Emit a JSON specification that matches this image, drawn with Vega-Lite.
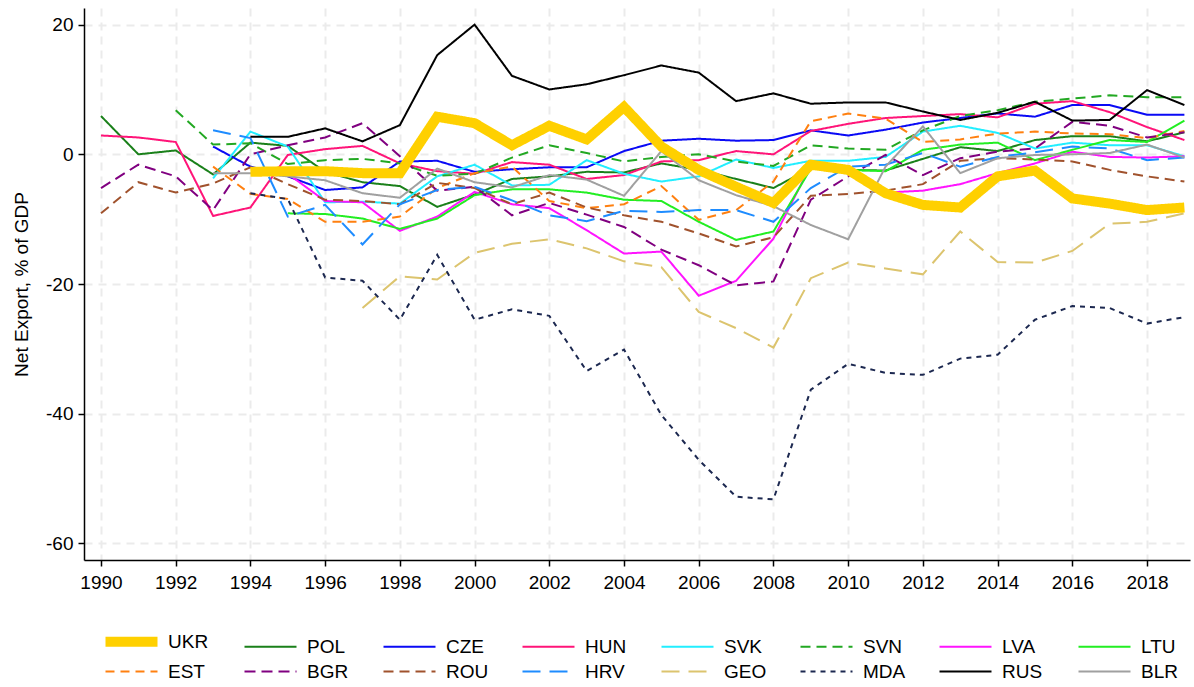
{
"$schema":"https://vega.github.io/schema/vega-lite/v6.json",
"width":1106,"height":552,
"autosize":{"type":"none"},
"padding":{"left":84,"top":8,"right":4,"bottom":127},
"config":{"font":"Liberation Sans","view":{"stroke":null},
"axis":{"labelFont":"Liberation Sans","labelFontSize":19,"labelColor":"#000","titleFont":"Liberation Sans","titleFontSize":19,"titleFontWeight":"normal","titleColor":"#000","domainColor":"#000","domainWidth":1.5,"tickColor":"#000","tickWidth":1.5,"tickSize":6,"gridColor":"#ebebeb","gridWidth":2,"gridDash":[8,6]},
"legend":{"labelFont":"Liberation Sans","labelFontSize":19,"labelColor":"#000"}},
"data":{"values":[
{"c":"UKR","t":1994,"v":-2.7},{"c":"UKR","t":1995,"v":-2.6},{"c":"UKR","t":1996,"v":-2.6},{"c":"UKR","t":1997,"v":-2.9},{"c":"UKR","t":1998,"v":-2.9},{"c":"UKR","t":1999,"v":5.8},{"c":"UKR","t":2000,"v":4.8},{"c":"UKR","t":2001,"v":1.4},{"c":"UKR","t":2002,"v":4.4},{"c":"UKR","t":2003,"v":2.3},{"c":"UKR","t":2004,"v":7.3},{"c":"UKR","t":2005,"v":1.2},{"c":"UKR","t":2006,"v":-2.4},{"c":"UKR","t":2007,"v":-5.0},{"c":"UKR","t":2008,"v":-7.5},{"c":"UKR","t":2009,"v":-1.6},{"c":"UKR","t":2010,"v":-2.4},{"c":"UKR","t":2011,"v":-6.0},{"c":"UKR","t":2012,"v":-7.8},{"c":"UKR","t":2013,"v":-8.2},{"c":"UKR","t":2014,"v":-3.4},{"c":"UKR","t":2015,"v":-2.5},{"c":"UKR","t":2016,"v":-6.8},{"c":"UKR","t":2017,"v":-7.6},{"c":"UKR","t":2018,"v":-8.6},{"c":"UKR","t":2019,"v":-8.2},
{"c":"POL","t":1990,"v":5.9},{"c":"POL","t":1991,"v":0.0},{"c":"POL","t":1992,"v":0.6},{"c":"POL","t":1993,"v":-3.1},{"c":"POL","t":1994,"v":1.8},{"c":"POL","t":1995,"v":1.3},{"c":"POL","t":1996,"v":-2.7},{"c":"POL","t":1997,"v":-4.3},{"c":"POL","t":1998,"v":-4.9},{"c":"POL","t":1999,"v":-8.1},{"c":"POL","t":2000,"v":-6.2},{"c":"POL","t":2001,"v":-3.8},{"c":"POL","t":2002,"v":-3.4},{"c":"POL","t":2003,"v":-2.7},{"c":"POL","t":2004,"v":-2.8},{"c":"POL","t":2005,"v":-1.4},{"c":"POL","t":2006,"v":-2.4},{"c":"POL","t":2007,"v":-3.8},{"c":"POL","t":2008,"v":-5.2},{"c":"POL","t":2009,"v":-2.1},{"c":"POL","t":2010,"v":-2.4},{"c":"POL","t":2011,"v":-2.5},{"c":"POL","t":2012,"v":-0.7},{"c":"POL","t":2013,"v":1.1},{"c":"POL","t":2014,"v":0.5},{"c":"POL","t":2015,"v":2.2},{"c":"POL","t":2016,"v":2.8},{"c":"POL","t":2017,"v":2.8},{"c":"POL","t":2018,"v":2.0},{"c":"POL","t":2019,"v":3.4},
{"c":"CZE","t":1993,"v":1.2},{"c":"CZE","t":1994,"v":-1.9},{"c":"CZE","t":1995,"v":-3.4},{"c":"CZE","t":1996,"v":-5.5},{"c":"CZE","t":1997,"v":-5.1},{"c":"CZE","t":1998,"v":-1.1},{"c":"CZE","t":1999,"v":-1.0},{"c":"CZE","t":2000,"v":-2.7},{"c":"CZE","t":2001,"v":-2.3},{"c":"CZE","t":2002,"v":-2.0},{"c":"CZE","t":2003,"v":-2.0},{"c":"CZE","t":2004,"v":0.5},{"c":"CZE","t":2005,"v":2.1},{"c":"CZE","t":2006,"v":2.4},{"c":"CZE","t":2007,"v":2.1},{"c":"CZE","t":2008,"v":2.2},{"c":"CZE","t":2009,"v":3.7},{"c":"CZE","t":2010,"v":2.9},{"c":"CZE","t":2011,"v":3.8},{"c":"CZE","t":2012,"v":4.9},{"c":"CZE","t":2013,"v":5.6},{"c":"CZE","t":2014,"v":6.3},{"c":"CZE","t":2015,"v":5.8},{"c":"CZE","t":2016,"v":7.6},{"c":"CZE","t":2017,"v":7.6},{"c":"CZE","t":2018,"v":6.1},{"c":"CZE","t":2019,"v":6.1},
{"c":"HUN","t":1990,"v":2.9},{"c":"HUN","t":1991,"v":2.6},{"c":"HUN","t":1992,"v":1.9},{"c":"HUN","t":1993,"v":-9.5},{"c":"HUN","t":1994,"v":-8.2},{"c":"HUN","t":1995,"v":-0.1},{"c":"HUN","t":1996,"v":0.8},{"c":"HUN","t":1997,"v":1.3},{"c":"HUN","t":1998,"v":-1.4},{"c":"HUN","t":1999,"v":-2.6},{"c":"HUN","t":2000,"v":-3.0},{"c":"HUN","t":2001,"v":-1.2},{"c":"HUN","t":2002,"v":-1.6},{"c":"HUN","t":2003,"v":-3.8},{"c":"HUN","t":2004,"v":-3.2},{"c":"HUN","t":2005,"v":-1.1},{"c":"HUN","t":2006,"v":-0.9},{"c":"HUN","t":2007,"v":0.5},{"c":"HUN","t":2008,"v":0.0},{"c":"HUN","t":2009,"v":3.6},{"c":"HUN","t":2010,"v":4.7},{"c":"HUN","t":2011,"v":5.6},{"c":"HUN","t":2012,"v":5.9},{"c":"HUN","t":2013,"v":6.2},{"c":"HUN","t":2014,"v":5.7},{"c":"HUN","t":2015,"v":7.8},{"c":"HUN","t":2016,"v":8.2},{"c":"HUN","t":2017,"v":6.5},{"c":"HUN","t":2018,"v":4.2},{"c":"HUN","t":2019,"v":2.2},
{"c":"SVK","t":1993,"v":-3.7},{"c":"SVK","t":1994,"v":3.5},{"c":"SVK","t":1995,"v":1.2},{"c":"SVK","t":1996,"v":-7.4},{"c":"SVK","t":1997,"v":-7.3},{"c":"SVK","t":1998,"v":-7.6},{"c":"SVK","t":1999,"v":-3.4},{"c":"SVK","t":2000,"v":-1.6},{"c":"SVK","t":2001,"v":-4.8},{"c":"SVK","t":2002,"v":-4.7},{"c":"SVK","t":2003,"v":-0.9},{"c":"SVK","t":2004,"v":-3.0},{"c":"SVK","t":2005,"v":-4.2},{"c":"SVK","t":2006,"v":-3.4},{"c":"SVK","t":2007,"v":-0.8},{"c":"SVK","t":2008,"v":-2.1},{"c":"SVK","t":2009,"v":-1.0},{"c":"SVK","t":2010,"v":-1.0},{"c":"SVK","t":2011,"v":-0.4},{"c":"SVK","t":2012,"v":3.5},{"c":"SVK","t":2013,"v":4.4},{"c":"SVK","t":2014,"v":3.3},{"c":"SVK","t":2015,"v":0.9},{"c":"SVK","t":2016,"v":1.8},{"c":"SVK","t":2017,"v":1.4},{"c":"SVK","t":2018,"v":1.4},{"c":"SVK","t":2019,"v":-0.3},
{"c":"SVN","t":1992,"v":6.8},{"c":"SVN","t":1993,"v":1.5},{"c":"SVN","t":1994,"v":1.7},{"c":"SVN","t":1995,"v":-1.5},{"c":"SVN","t":1996,"v":-0.9},{"c":"SVN","t":1997,"v":-0.7},{"c":"SVN","t":1998,"v":-1.4},{"c":"SVN","t":1999,"v":-3.3},{"c":"SVN","t":2000,"v":-3.0},{"c":"SVN","t":2001,"v":-0.5},{"c":"SVN","t":2002,"v":1.4},{"c":"SVN","t":2003,"v":0.2},{"c":"SVN","t":2004,"v":-1.1},{"c":"SVN","t":2005,"v":-0.4},{"c":"SVN","t":2006,"v":0.0},{"c":"SVN","t":2007,"v":-1.1},{"c":"SVN","t":2008,"v":-1.8},{"c":"SVN","t":2009,"v":1.4},{"c":"SVN","t":2010,"v":0.9},{"c":"SVN","t":2011,"v":0.7},{"c":"SVN","t":2012,"v":3.7},{"c":"SVN","t":2013,"v":5.9},{"c":"SVN","t":2014,"v":6.8},{"c":"SVN","t":2015,"v":8.1},{"c":"SVN","t":2016,"v":8.6},{"c":"SVN","t":2017,"v":9.1},{"c":"SVN","t":2018,"v":8.8},{"c":"SVN","t":2019,"v":8.8},
{"c":"LVA","t":1995,"v":-3.0},{"c":"LVA","t":1996,"v":-7.2},{"c":"LVA","t":1997,"v":-7.4},{"c":"LVA","t":1998,"v":-11.8},{"c":"LVA","t":1999,"v":-9.6},{"c":"LVA","t":2000,"v":-5.8},{"c":"LVA","t":2001,"v":-7.7},{"c":"LVA","t":2002,"v":-8.3},{"c":"LVA","t":2003,"v":-11.7},{"c":"LVA","t":2004,"v":-15.3},{"c":"LVA","t":2005,"v":-15.0},{"c":"LVA","t":2006,"v":-21.8},{"c":"LVA","t":2007,"v":-19.5},{"c":"LVA","t":2008,"v":-13.0},{"c":"LVA","t":2009,"v":-1.7},{"c":"LVA","t":2010,"v":-2.0},{"c":"LVA","t":2011,"v":-5.9},{"c":"LVA","t":2012,"v":-5.6},{"c":"LVA","t":2013,"v":-4.6},{"c":"LVA","t":2014,"v":-2.9},{"c":"LVA","t":2015,"v":-1.4},{"c":"LVA","t":2016,"v":0.4},{"c":"LVA","t":2017,"v":-0.4},{"c":"LVA","t":2018,"v":-0.5},{"c":"LVA","t":2019,"v":-0.3},
{"c":"LTU","t":1995,"v":-9.1},{"c":"LTU","t":1996,"v":-9.2},{"c":"LTU","t":1997,"v":-9.9},{"c":"LTU","t":1998,"v":-11.5},{"c":"LTU","t":1999,"v":-9.9},{"c":"LTU","t":2000,"v":-6.3},{"c":"LTU","t":2001,"v":-5.4},{"c":"LTU","t":2002,"v":-5.4},{"c":"LTU","t":2003,"v":-5.9},{"c":"LTU","t":2004,"v":-7.0},{"c":"LTU","t":2005,"v":-7.2},{"c":"LTU","t":2006,"v":-10.4},{"c":"LTU","t":2007,"v":-13.2},{"c":"LTU","t":2008,"v":-11.9},{"c":"LTU","t":2009,"v":-2.2},{"c":"LTU","t":2010,"v":-2.4},{"c":"LTU","t":2011,"v":-2.6},{"c":"LTU","t":2012,"v":0.7},{"c":"LTU","t":2013,"v":1.5},{"c":"LTU","t":2014,"v":1.8},{"c":"LTU","t":2015,"v":-0.9},{"c":"LTU","t":2016,"v":0.7},{"c":"LTU","t":2017,"v":2.2},{"c":"LTU","t":2018,"v":1.9},{"c":"LTU","t":2019,"v":5.2},
{"c":"EST","t":1993,"v":-1.9},{"c":"EST","t":1994,"v":-6.1},{"c":"EST","t":1995,"v":-6.9},{"c":"EST","t":1996,"v":-10.4},{"c":"EST","t":1997,"v":-10.4},{"c":"EST","t":1998,"v":-9.6},{"c":"EST","t":1999,"v":-5.2},{"c":"EST","t":2000,"v":-2.9},{"c":"EST","t":2001,"v":-1.9},{"c":"EST","t":2002,"v":-7.2},{"c":"EST","t":2003,"v":-8.3},{"c":"EST","t":2004,"v":-7.7},{"c":"EST","t":2005,"v":-4.9},{"c":"EST","t":2006,"v":-10.1},{"c":"EST","t":2007,"v":-8.6},{"c":"EST","t":2008,"v":-4.2},{"c":"EST","t":2009,"v":5.1},{"c":"EST","t":2010,"v":6.3},{"c":"EST","t":2011,"v":5.5},{"c":"EST","t":2012,"v":1.9},{"c":"EST","t":2013,"v":2.3},{"c":"EST","t":2014,"v":3.2},{"c":"EST","t":2015,"v":3.5},{"c":"EST","t":2016,"v":3.2},{"c":"EST","t":2017,"v":3.1},{"c":"EST","t":2018,"v":2.5},{"c":"EST","t":2019,"v":3.6},
{"c":"BGR","t":1990,"v":-5.2},{"c":"BGR","t":1991,"v":-1.6},{"c":"BGR","t":1992,"v":-3.4},{"c":"BGR","t":1993,"v":-8.6},{"c":"BGR","t":1994,"v":0.0},{"c":"BGR","t":1995,"v":1.4},{"c":"BGR","t":1996,"v":2.6},{"c":"BGR","t":1997,"v":4.8},{"c":"BGR","t":1998,"v":-0.3},{"c":"BGR","t":1999,"v":-5.6},{"c":"BGR","t":2000,"v":-5.0},{"c":"BGR","t":2001,"v":-9.4},{"c":"BGR","t":2002,"v":-7.5},{"c":"BGR","t":2003,"v":-9.3},{"c":"BGR","t":2004,"v":-11.2},{"c":"BGR","t":2005,"v":-14.7},{"c":"BGR","t":2006,"v":-17.1},{"c":"BGR","t":2007,"v":-20.2},{"c":"BGR","t":2008,"v":-19.6},{"c":"BGR","t":2009,"v":-7.0},{"c":"BGR","t":2010,"v":-3.4},{"c":"BGR","t":2011,"v":-0.1},{"c":"BGR","t":2012,"v":-3.2},{"c":"BGR","t":2013,"v":-0.6},{"c":"BGR","t":2014,"v":0.4},{"c":"BGR","t":2015,"v":0.9},{"c":"BGR","t":2016,"v":5.0},{"c":"BGR","t":2017,"v":4.4},{"c":"BGR","t":2018,"v":2.6},{"c":"BGR","t":2019,"v":3.4},
{"c":"ROU","t":1990,"v":-9.1},{"c":"ROU","t":1991,"v":-4.3},{"c":"ROU","t":1992,"v":-5.9},{"c":"ROU","t":1993,"v":-4.5},{"c":"ROU","t":1994,"v":-2.0},{"c":"ROU","t":1995,"v":-4.6},{"c":"ROU","t":1996,"v":-7.0},{"c":"ROU","t":1997,"v":-7.2},{"c":"ROU","t":1998,"v":-7.7},{"c":"ROU","t":1999,"v":-4.4},{"c":"ROU","t":2000,"v":-5.2},{"c":"ROU","t":2001,"v":-7.7},{"c":"ROU","t":2002,"v":-5.9},{"c":"ROU","t":2003,"v":-8.2},{"c":"ROU","t":2004,"v":-9.4},{"c":"ROU","t":2005,"v":-10.4},{"c":"ROU","t":2006,"v":-12.2},{"c":"ROU","t":2007,"v":-14.2},{"c":"ROU","t":2008,"v":-12.8},{"c":"ROU","t":2009,"v":-6.4},{"c":"ROU","t":2010,"v":-6.1},{"c":"ROU","t":2011,"v":-5.6},{"c":"ROU","t":2012,"v":-4.6},{"c":"ROU","t":2013,"v":-1.0},{"c":"ROU","t":2014,"v":-0.6},{"c":"ROU","t":2015,"v":-0.8},{"c":"ROU","t":2016,"v":-1.1},{"c":"ROU","t":2017,"v":-2.4},{"c":"ROU","t":2018,"v":-3.4},{"c":"ROU","t":2019,"v":-4.2},
{"c":"HRV","t":1993,"v":3.7},{"c":"HRV","t":1994,"v":2.5},{"c":"HRV","t":1995,"v":-9.6},{"c":"HRV","t":1996,"v":-7.8},{"c":"HRV","t":1997,"v":-13.9},{"c":"HRV","t":1998,"v":-7.7},{"c":"HRV","t":1999,"v":-5.5},{"c":"HRV","t":2000,"v":-5.0},{"c":"HRV","t":2001,"v":-7.1},{"c":"HRV","t":2002,"v":-9.4},{"c":"HRV","t":2003,"v":-10.3},{"c":"HRV","t":2004,"v":-8.7},{"c":"HRV","t":2005,"v":-8.9},{"c":"HRV","t":2006,"v":-8.6},{"c":"HRV","t":2007,"v":-8.6},{"c":"HRV","t":2008,"v":-10.4},{"c":"HRV","t":2009,"v":-5.2},{"c":"HRV","t":2010,"v":-1.9},{"c":"HRV","t":2011,"v":-1.6},{"c":"HRV","t":2012,"v":0.2},{"c":"HRV","t":2013,"v":-1.9},{"c":"HRV","t":2014,"v":-0.4},{"c":"HRV","t":2015,"v":0.3},{"c":"HRV","t":2016,"v":1.2},{"c":"HRV","t":2017,"v":0.9},{"c":"HRV","t":2018,"v":-0.9},{"c":"HRV","t":2019,"v":-0.5},
{"c":"GEO","t":1997,"v":-23.7},{"c":"GEO","t":1998,"v":-18.8},{"c":"GEO","t":1999,"v":-19.3},{"c":"GEO","t":2000,"v":-15.2},{"c":"GEO","t":2001,"v":-13.8},{"c":"GEO","t":2002,"v":-13.1},{"c":"GEO","t":2003,"v":-14.5},{"c":"GEO","t":2004,"v":-16.5},{"c":"GEO","t":2005,"v":-17.4},{"c":"GEO","t":2006,"v":-24.3},{"c":"GEO","t":2007,"v":-26.8},{"c":"GEO","t":2008,"v":-29.8},{"c":"GEO","t":2009,"v":-19.1},{"c":"GEO","t":2010,"v":-16.7},{"c":"GEO","t":2011,"v":-17.6},{"c":"GEO","t":2012,"v":-18.5},{"c":"GEO","t":2013,"v":-11.9},{"c":"GEO","t":2014,"v":-16.6},{"c":"GEO","t":2015,"v":-16.7},{"c":"GEO","t":2016,"v":-14.9},{"c":"GEO","t":2017,"v":-10.7},{"c":"GEO","t":2018,"v":-10.4},{"c":"GEO","t":2019,"v":-9.1},
{"c":"MDA","t":1994,"v":-6.0},{"c":"MDA","t":1995,"v":-6.9},{"c":"MDA","t":1996,"v":-19.0},{"c":"MDA","t":1997,"v":-19.5},{"c":"MDA","t":1998,"v":-25.5},{"c":"MDA","t":1999,"v":-15.5},{"c":"MDA","t":2000,"v":-25.5},{"c":"MDA","t":2001,"v":-23.9},{"c":"MDA","t":2002,"v":-24.9},{"c":"MDA","t":2003,"v":-33.4},{"c":"MDA","t":2004,"v":-30.1},{"c":"MDA","t":2005,"v":-40.2},{"c":"MDA","t":2006,"v":-47.1},{"c":"MDA","t":2007,"v":-52.8},{"c":"MDA","t":2008,"v":-53.2},{"c":"MDA","t":2009,"v":-36.3},{"c":"MDA","t":2010,"v":-32.3},{"c":"MDA","t":2011,"v":-33.7},{"c":"MDA","t":2012,"v":-34.0},{"c":"MDA","t":2013,"v":-31.5},{"c":"MDA","t":2014,"v":-30.9},{"c":"MDA","t":2015,"v":-25.5},{"c":"MDA","t":2016,"v":-23.4},{"c":"MDA","t":2017,"v":-23.7},{"c":"MDA","t":2018,"v":-26.1},{"c":"MDA","t":2019,"v":-25.1},
{"c":"RUS","t":1994,"v":2.7},{"c":"RUS","t":1995,"v":2.7},{"c":"RUS","t":1996,"v":4.0},{"c":"RUS","t":1997,"v":2.0},{"c":"RUS","t":1998,"v":4.5},{"c":"RUS","t":1999,"v":15.3},{"c":"RUS","t":2000,"v":20.0},{"c":"RUS","t":2001,"v":12.1},{"c":"RUS","t":2002,"v":10.0},{"c":"RUS","t":2003,"v":10.8},{"c":"RUS","t":2004,"v":12.2},{"c":"RUS","t":2005,"v":13.7},{"c":"RUS","t":2006,"v":12.6},{"c":"RUS","t":2007,"v":8.2},{"c":"RUS","t":2008,"v":9.4},{"c":"RUS","t":2009,"v":7.8},{"c":"RUS","t":2010,"v":8.0},{"c":"RUS","t":2011,"v":8.0},{"c":"RUS","t":2012,"v":6.6},{"c":"RUS","t":2013,"v":5.3},{"c":"RUS","t":2014,"v":6.4},{"c":"RUS","t":2015,"v":8.1},{"c":"RUS","t":2016,"v":5.2},{"c":"RUS","t":2017,"v":5.3},{"c":"RUS","t":2018,"v":9.9},{"c":"RUS","t":2019,"v":7.6},
{"c":"BLR","t":1993,"v":-2.9},{"c":"BLR","t":1994,"v":-2.9},{"c":"BLR","t":1995,"v":-3.4},{"c":"BLR","t":1996,"v":-4.0},{"c":"BLR","t":1997,"v":-6.0},{"c":"BLR","t":1998,"v":-6.7},{"c":"BLR","t":1999,"v":-2.2},{"c":"BLR","t":2000,"v":-4.3},{"c":"BLR","t":2001,"v":-5.1},{"c":"BLR","t":2002,"v":-3.2},{"c":"BLR","t":2003,"v":-3.9},{"c":"BLR","t":2004,"v":-6.4},{"c":"BLR","t":2005,"v":0.5},{"c":"BLR","t":2006,"v":-4.0},{"c":"BLR","t":2007,"v":-6.3},{"c":"BLR","t":2008,"v":-8.0},{"c":"BLR","t":2009,"v":-10.9},{"c":"BLR","t":2010,"v":-13.1},{"c":"BLR","t":2011,"v":-1.9},{"c":"BLR","t":2012,"v":4.3},{"c":"BLR","t":2013,"v":-2.9},{"c":"BLR","t":2014,"v":-0.6},{"c":"BLR","t":2015,"v":-0.1},{"c":"BLR","t":2016,"v":0.0},{"c":"BLR","t":2017,"v":0.2},{"c":"BLR","t":2018,"v":1.5},{"c":"BLR","t":2019,"v":-0.5}
]},
"encoding":{
"x":{"field":"t","type":"quantitative","scale":{"domain":[1989.545,2019.15],"nice":false,"zero":false},"axis":{"values":[1990,1992,1994,1996,1998,2000,2002,2004,2006,2008,2010,2012,2014,2016,2018],"format":"d","title":null,"labelPadding":7}},
"y":{"field":"v","type":"quantitative","scale":{"domain":[-62.55,22.56],"nice":false,"zero":false},"axis":{"values":[-60,-40,-20,0,20],"title":"Net Export, % of GDP","labelPadding":5,"titlePadding":14,"labelExpr":"replace(datum.label, '\u2212', '-')"}},
"color":{"field":"c","type":"nominal","scale":{"domain":["UKR","POL","CZE","HUN","SVK","SVN","LVA","LTU","EST","BGR","ROU","HRV","GEO","MDA","RUS","BLR"],"range":["#ffd000","#1a801a","#0a0af5","#ff1478","#22eeff","#22a822","#ff14ff","#22ee22","#ff8010","#800080","#a0522d","#1e8cff","#dcc46e","#1c2850","#000000","#a0a0a0"]},
"legend":{"title":null,"orient":"none","legendX":38,"legendY":624,"direction":"horizontal","columns":8,"symbolType":"stroke","symbolSize":2704,"symbolStrokeWidth":2,"labelOffset":27,"columnPadding":29,"rowPadding":-26,"gridAlign":"all","padding":0,
"encode":{"symbols":{"update":{"strokeWidth":{"signal":"datum.value === 'UKR' ? 10 : 2"}}}}}},
"strokeDash":{"field":"c","type":"nominal","scale":{"domain":["UKR","POL","CZE","HUN","SVK","SVN","LVA","LTU","EST","BGR","ROU","HRV","GEO","MDA","RUS","BLR"],"range":[[1,0],[1,0],[1,0],[1,0],[1,0],[10,6],[1,0],[1,0],[9,6],[11,6],[10,6],[18,9],[18,9],[5,5],[1,0],[1,0]]}},
"strokeWidth":{"condition":{"test":"datum.c == 'UKR'","value":10},"value":2}
},
"layer":[
{"transform":[{"filter":"datum.c != 'UKR'"}],"mark":{"type":"line"}},
{"transform":[{"filter":"datum.c == 'UKR'"}],"mark":{"type":"line"}}
]
}
